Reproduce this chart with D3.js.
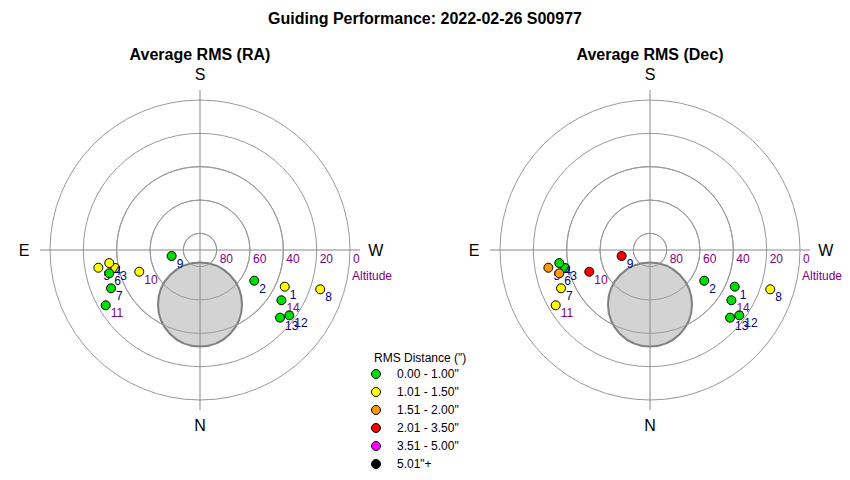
<!DOCTYPE html>
<html><head><meta charset="utf-8">
<script src="https://cdn.jsdelivr.net/npm/d3@7"></script>
<style>body{margin:0;background:#fff;font-family:"Liberation Sans",Arial,sans-serif;}</style>
</head><body>
<svg id="c" width="850" height="480" font-family="Liberation Sans, Arial, sans-serif"></svg>
<script>
const pointIds = [1,2,3,4,5,6,7,8,9,10,11,12,13,14];
const altitudes = [34.6,52.6,38.0,35.0,28.1,33.8,31.9,14.1,72.6,51.3,24.4,23.6,27.1,32.6];
const azimuths  = [293.4,299.5,78.0,81.8,80.1,75.6,66.7,288.1,78.0,70.3,59.6,306.2,310.2,301.7];
const rmsRA  = [1.20,0.80,1.15,1.10,1.25,0.90,0.85,1.30,0.70,1.10,0.95,0.80,0.75,0.85];
const rmsDec = [0.90,0.80,0.95,0.90,1.70,1.60,1.20,1.30,2.40,2.20,1.10,0.85,0.80,0.90];
const labelColors = ["#000080","#000080","#000080","#000080","#000080","#000080","#000080","#000080","#000080","#800080","#800080","#000080","#000080","#800080"];
const ringAlts = [80,60,40,20,0];
const compass = [{t:"S",az:180},{t:"N",az:0},{t:"E",az:90},{t:"W",az:270}];
const exclusion = {alt:57.3, az:0, radiusDeg:25.2};
const legendLabels = ['0.00 - 1.00"','1.01 - 1.50"','1.51 - 2.00"','2.01 - 3.50"','3.51 - 5.00"','5.01"+'];
const legendBreaks = [1.005,1.505,2.005,3.505,5.005];
const legendColors = ["#00e000","#ffff00","#ff9900","#ff0000","#ff00ff","#000000"];

const svg = d3.select("#c");
const color = d3.scaleThreshold().domain(legendBreaks).range(legendColors);
const R = 150;
const rScale = d3.scaleLinear().domain([90,0]).range([0,R]);

svg.append("text").attr("x",425).attr("y",24).attr("text-anchor","middle")
  .attr("font-size",16).attr("font-weight","bold").text("Guiding Performance: 2022-02-26 S00977");

function polar(g, title, values){
  const cx = g.cx, cy = 250;
  const root = svg.append("g").attr("transform",`translate(${cx},${cy})`);
  const pos = (alt,az)=>{const r=rScale(alt);const a=az*Math.PI/180;return [-r*Math.sin(a), r*Math.cos(a)];};
  svg.append("text").attr("x",cx).attr("y",60).attr("text-anchor","middle")
    .attr("font-size",16).attr("font-weight","bold").text(title);
  root.selectAll("circle.ring").data(ringAlts).join("circle").attr("class","ring")
    .attr("r",d=>rScale(d)).attr("fill","none").attr("stroke","#999").attr("stroke-width",1);
  root.append("line").attr("x1",-160).attr("x2",160).attr("y1",0).attr("y2",0).attr("stroke","#888");
  root.append("line").attr("y1",-160).attr("y2",160).attr("x1",0).attr("x2",0).attr("stroke","#888");
  root.selectAll("text.alt").data(ringAlts).join("text").attr("class","alt")
    .attr("x",d=>rScale(d)+3).attr("y",13).attr("font-size",12).attr("fill","#800080").text(d=>d);
  root.append("text").attr("x",R+2).attr("y",30).attr("font-size",12).attr("fill","#800080").text("Altitude");
  compass.forEach(c=>{
    const p = pos(-15.5,c.az);
    root.append("text").attr("x",p[0]).attr("y",p[1]).attr("dy","0.35em").attr("text-anchor","middle")
      .attr("font-size",16).text(c.t);
  });
  const ep = pos(exclusion.alt, exclusion.az);
  const er = rScale(90-exclusion.radiusDeg);
  root.append("circle").attr("cx",ep[0]).attr("cy",ep[1]).attr("r",er)
    .attr("fill","#d3d3d3").attr("stroke","#808080").attr("stroke-width",2);
  root.append("line").attr("x1",0).attr("x2",0).attr("y1",ep[1]-er).attr("y2",ep[1]+er).attr("stroke","#888");
  root.selectAll("circle.ringOver").data(ringAlts.filter(d=>d>=40)).join("circle").attr("class","ringOver")
    .attr("r",d=>rScale(d)).attr("fill","none").attr("stroke","#999").attr("stroke-width",1);
  pointIds.forEach((id,i)=>{
    const p = pos(altitudes[i], azimuths[i]);
    const gg = root.append("g");
    gg.append("circle").attr("cx",p[0]).attr("cy",p[1]).attr("r",4.5)
      .attr("fill",color(values[i])).attr("stroke","#000").attr("stroke-width",1);
    gg.append("text").attr("x",p[0]+5).attr("y",p[1]+12).attr("font-size",12)
      .attr("fill",labelColors[i]).text(id);
  });
}
polar({cx:200},"Average RMS (RA)",rmsRA);
polar({cx:650},"Average RMS (Dec)",rmsDec);

const lg = svg.append("g");
lg.append("text").attr("x",374).attr("y",362).attr("font-size",12).text('RMS Distance (")');
lg.selectAll("circle").data(legendLabels).join("circle")
  .attr("cx",376).attr("cy",(d,i)=>374+i*18).attr("r",4.5)
  .attr("fill",(d,i)=>legendColors[i]).attr("stroke","#000");
lg.selectAll("text.l").data(legendLabels).join("text").attr("class","l")
  .attr("x",397).attr("y",(d,i)=>378+i*18).attr("font-size",12).text(d=>d);
</script>
</body></html>
